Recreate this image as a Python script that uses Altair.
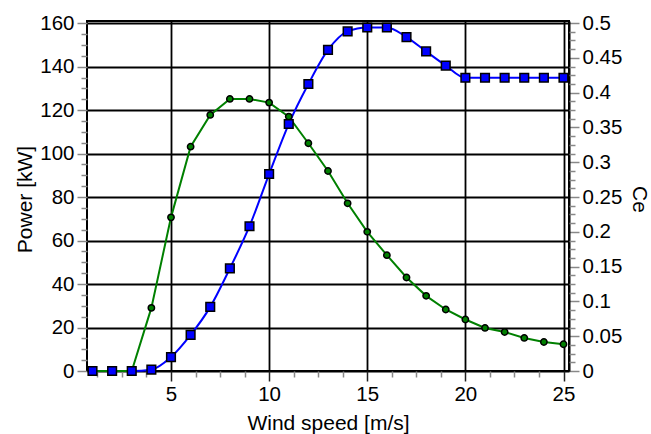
import altair as alt
import pandas as pd

wind = list(range(1, 26))
power = [0, 0, 0, 0.6, 6.4, 16.6, 29.5, 47.2, 66.6, 90.6, 113.6, 132.0, 147.7, 156.2,
         158.0, 158.0, 153.6, 147.0, 140.5, 134.9, 134.9, 134.9, 134.9, 134.9, 134.9]
ce = [0, 0, 0, 0.0907, 0.2208, 0.3224, 0.368, 0.391, 0.391, 0.3857, 0.3656, 0.3273,
      0.2874, 0.241, 0.200, 0.1665, 0.1344, 0.108, 0.0884, 0.074, 0.0619, 0.0561,
      0.0475, 0.0417, 0.0384]

x_major = [5, 10, 15, 20, 25]
x_minor = [1.25, 2.5, 3.75, 6.25, 7.5, 8.75, 11.25, 12.5, 13.75, 16.25, 17.5, 18.75,
           21.25, 22.5, 23.75]
p_major = [0, 20, 40, 60, 80, 100, 120, 140, 160]
p_minor = [v for v in range(0, 161, 5) if v % 20 != 0]
c_major = [0, 0.05, 0.1, 0.15, 0.2, 0.25, 0.3, 0.35, 0.4, 0.45, 0.5]
c_minor = [round(i * 0.0125, 4) for i in range(0, 41) if i % 4 != 0]

df = pd.DataFrame({"wind": wind, "power": power, "ce": ce})

FONT = "Liberation Sans"
LFS = 20.5
TFS = 21
W, H = 482, 350
xdom = [0.72, 25.28]
pdom = [0, 161]
cdom = [0, 0.503]

xs = alt.Scale(domain=xdom, nice=False, zero=False)
ps = alt.Scale(domain=pdom, nice=False)
cs = alt.Scale(domain=cdom, nice=False)

base = alt.Chart(df)

x_main = alt.X("wind:Q", scale=xs, axis=alt.Axis(
    orient="bottom", values=x_major, grid=True, gridColor="black", gridWidth=1.8,
    tickColor="#222222", tickSize=10, tickWidth=1.5, domain=False,
    labelFont=FONT, labelFontSize=LFS, labelPadding=3, labelColor="black",
    title="Wind speed [m/s]", titleFont=FONT, titleFontSize=TFS, titleFontWeight="normal",
    titleColor="black", titleX=241, titleY=52, titleAnchor="middle",
    titleBaseline="middle"))
x_none = alt.X("wind:Q", scale=xs, axis=None)
x_minor_enc = alt.X("wind:Q", scale=xs, axis=alt.Axis(
    orient="bottom", values=x_minor, grid=False, labels=False, domain=False,
    tickColor="#888888", tickSize=6, tickWidth=1.5, title=None))

y_power = alt.Y("power:Q", scale=ps, axis=alt.Axis(
    orient="left", values=p_major, grid=True, gridColor="black", gridWidth=1.8,
    tickColor="#888888", tickSize=10, tickWidth=1.5, domain=False,
    labelFont=FONT, labelFontSize=LFS, labelPadding=3, labelColor="black",
    title="Power [kW]", titleFont=FONT, titleFontSize=TFS, titleFontWeight="normal",
    titleColor="black", titleX=-62, titleY=178, titleAngle=270,
    titleAlign="center", titleBaseline="middle"))
y_power_none = alt.Y("power:Q", scale=ps, axis=None)
y_power_minor = alt.Y("power:Q", scale=ps, axis=alt.Axis(
    orient="left", values=p_minor, grid=False, labels=False, domain=False,
    tickColor="#888888", tickSize=6, tickWidth=1.5, title=None))

y_ce = alt.Y("ce:Q", scale=cs, axis=alt.Axis(
    orient="right", values=c_major, grid=False, format="~g",
    tickColor="#888888", tickSize=10, tickWidth=1.5, domain=True,
    domainColor="black", domainWidth=2,
    labelFont=FONT, labelFontSize=LFS, labelPadding=3, labelColor="black",
    title="Ce", titleFont=FONT, titleFontSize=TFS, titleFontWeight="normal",
    titleColor="black", titleX=69, titleY=178, titleAngle=90,
    titleAlign="center", titleBaseline="middle"))
y_ce_none = alt.Y("ce:Q", scale=cs, axis=None)
y_ce_minor = alt.Y("ce:Q", scale=cs, axis=alt.Axis(
    orient="right", values=c_minor, grid=False, labels=False, domain=False,
    tickColor="#888888", tickSize=6, tickWidth=1.5, title=None))

p_line = base.mark_line(color="#0000FF", strokeWidth=2, interpolate="monotone").encode(
    x=x_main, y=y_power)
c_line = base.mark_line(color="#008000", strokeWidth=2).encode(
    x=x_none, y=y_ce)
c_pts = base.mark_point(shape="circle", filled=True, fill="#008000", stroke="black",
                        strokeWidth=1.5, size=40, opacity=1).encode(x=x_none, y=y_ce_none)
p_pts = base.mark_point(shape="square", filled=True, fill="#0000FF", stroke="black",
                        strokeWidth=1.5, size=75, opacity=1).encode(x=x_none, y=y_power_none)
minor_left = base.mark_point(opacity=0, size=1).encode(x=x_minor_enc, y=y_power_minor)
minor_right = base.mark_point(opacity=0, size=1).encode(x=x_none, y=y_ce_minor)

chart = alt.layer(p_line, c_line, minor_left, minor_right, c_pts, p_pts).resolve_scale(
    y="independent").resolve_axis(x="independent", y="independent").properties(
    width=W, height=H,
    autosize=alt.AutoSizeParams(type="none"),
    padding={"left": 87, "top": 21, "right": 82, "bottom": 63},
    background="white",
).configure_view(stroke="black", strokeWidth=2)

chart.save("out.html", embed_options={"renderer": "svg", "actions": False})
